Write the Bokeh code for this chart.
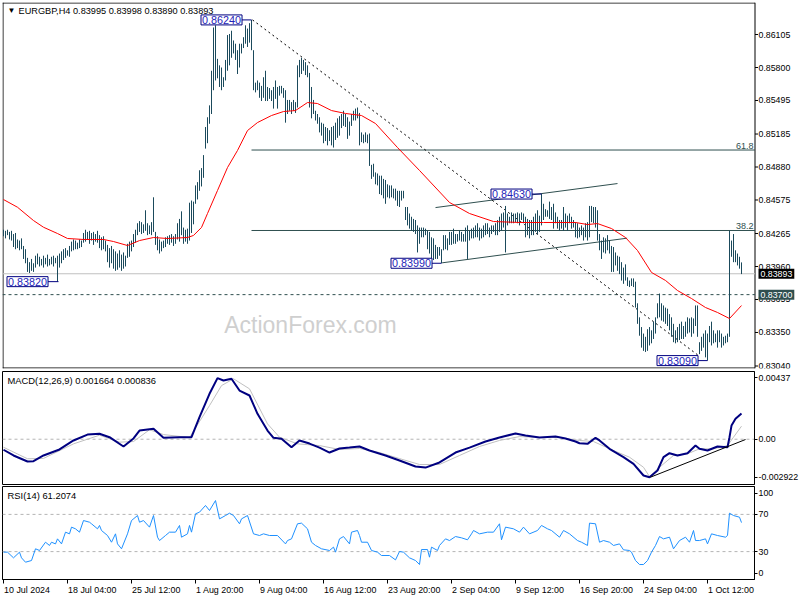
from bokeh.plotting import figure
from bokeh.models import Range1d, FixedTicker, Label, LinearAxis
from bokeh.layouts import column
from bokeh.embed import file_html
from bokeh.resources import INLINE
from bokeh.core.properties import value

FONT = "Liberation Sans"
BAR = "#1b4a5c"
SLATE = "#2f4f4f"

# ---------------- data (EURGBP H4 bars, index 0 = 10 Jul 2024 20:00) ----------------
bar_high = [
0.8430,0.8429,0.8430,0.8428,0.8429,0.8426,0.8427,0.8421,0.8420,0.8422,
0.8415,0.8412,0.8404,0.8400,0.8403,0.8399,0.8406,0.8408,0.8405,0.8403,
0.8406,0.8404,0.8407,0.8403,0.8405,0.8406,0.8404,0.8406,0.8408,0.8410,
0.8412,0.8413,0.8411,0.8415,0.8419,0.8421,0.8420,0.8418,0.8421,0.8420,
0.8427,0.8430,0.8428,0.8429,0.8427,0.8428,0.8426,0.8429,0.8425,0.8423,
0.8424,0.8420,0.8416,0.8413,0.8415,0.8412,0.8410,0.8408,0.8411,0.8407,
0.8409,0.8406,0.8417,0.8419,0.8420,0.8426,0.8430,0.8436,0.8438,0.8437,
0.8435,0.8448,0.8436,0.8434,0.8437,0.8460,0.8428,0.8424,0.8421,0.8419,
0.8420,0.8423,0.8424,0.8425,0.8426,0.8424,0.8426,0.8436,0.8440,0.8447,
0.8432,0.8430,0.8431,0.8455,0.8457,0.8456,0.8471,0.8474,0.8485,0.8487,
0.8499,0.8525,0.8534,0.8545,0.8577,0.8617,0.8619,0.8588,0.8582,0.8580,
0.8571,0.8587,0.8610,0.8611,0.8614,0.8605,0.8602,0.8596,0.8602,0.8602,
0.8608,0.8619,0.8616,0.8621,0.8624,0.8596,0.8566,0.8568,0.8566,0.8563,
0.8571,0.8577,0.8562,0.8561,0.8559,0.8562,0.8568,0.8562,0.8563,0.8563,
0.8561,0.8559,0.8550,0.8550,0.8548,0.8550,0.8548,0.8582,0.8587,0.8589,
0.8587,0.8585,0.8582,0.8575,0.8562,0.8550,0.8540,0.8537,0.8534,0.8529,
0.8528,0.8525,0.8524,0.8522,0.8525,0.8526,0.8529,0.8533,0.8535,0.8537,
0.8540,0.8537,0.8534,0.8530,0.8537,0.8540,0.8542,0.8543,0.8538,0.8520,
0.8518,0.8520,0.8518,0.8519,0.8490,0.8491,0.8483,0.8482,0.8480,0.8480,
0.8477,0.8476,0.8472,0.8471,0.8471,0.8468,0.8468,0.8466,0.8466,0.8466,
0.8466,0.8451,0.8451,0.8445,0.8442,0.8440,0.8439,0.8434,0.8432,0.8432,
0.8432,0.8431,0.8429,0.8428,0.8423,0.8422,0.8416,0.8414,0.8414,0.8412,
0.8425,0.8425,0.8422,0.8428,0.8428,0.8431,0.8426,0.8426,0.8429,0.8428,
0.8426,0.8432,0.8434,0.8429,0.8431,0.8432,0.8434,0.8436,0.8432,0.8431,
0.8434,0.8436,0.8436,0.8432,0.8434,0.8434,0.8436,0.8439,0.8442,0.8445,
0.8446,0.8452,0.8445,0.8442,0.8446,0.8445,0.8445,0.8446,0.8445,0.8446,
0.8445,0.8442,0.8440,0.8439,0.8439,0.8442,0.8445,0.8448,0.8443,0.8463,
0.8454,0.8449,0.8448,0.8456,0.8451,0.8454,0.8446,0.8442,0.8439,0.8439,
0.8451,0.8445,0.8443,0.8445,0.8442,0.8439,0.8437,0.8436,0.8432,0.8434,
0.8432,0.8436,0.8437,0.8452,0.8452,0.8451,0.8451,0.8448,0.8426,0.8420,
0.8423,0.8422,0.8425,0.8420,0.8415,0.8414,0.8409,0.8406,0.8405,0.8400,
0.8395,0.8398,0.8386,0.8383,0.8385,0.8385,0.8382,0.8362,0.8349,0.8340,
0.8334,0.8331,0.8338,0.8340,0.8337,0.8345,0.8349,0.8362,0.8371,0.8362,
0.8360,0.8358,0.8357,0.8352,0.8349,0.8343,0.8337,0.8340,0.8343,0.8345,
0.8341,0.8345,0.8349,0.8348,0.8349,0.8348,0.8360,0.8360,0.8326,0.8331,
0.8334,0.8337,0.8334,0.8341,0.8345,0.8337,0.8334,0.8337,0.8337,0.8334,
0.8331,0.8332,0.8334,0.8429,0.8420,0.8426,0.8411,0.8408,0.8405,0.83998,
]
bar_low = [
0.8424,0.8422,0.8425,0.8421,0.8420,0.8414,0.8412,0.8413,0.8411,0.8412,
0.8403,0.8399,0.8391,0.8390,0.8392,0.8391,0.8395,0.8398,0.8396,0.8397,
0.8395,0.8398,0.8396,0.8397,0.8398,0.8396,0.8399,0.8382,0.8395,0.8399,
0.8402,0.8404,0.8406,0.8405,0.8410,0.8411,0.8412,0.8412,0.8413,0.8414,
0.8418,0.8419,0.8421,0.8417,0.8420,0.8416,0.8419,0.8418,0.8413,0.8411,
0.8412,0.8410,0.8400,0.8395,0.8399,0.8394,0.8392,0.8393,0.8395,0.8392,
0.8394,0.8396,0.8404,0.8405,0.8410,0.8414,0.8418,0.8425,0.8428,0.8426,
0.8427,0.8429,0.8425,0.8426,0.8425,0.8428,0.8416,0.8411,0.8408,0.8410,
0.8413,0.8414,0.8417,0.8416,0.8418,0.8415,0.8417,0.8421,0.8419,0.8425,
0.8417,0.8419,0.8417,0.8420,0.8427,0.8435,0.8454,0.8458,0.8466,0.8470,
0.8478,0.8505,0.8510,0.8528,0.8537,0.8559,0.8568,0.8570,0.8562,0.8559,
0.8562,0.8568,0.8577,0.8582,0.8589,0.8593,0.8587,0.8574,0.8580,0.8593,
0.8598,0.8602,0.8599,0.8603,0.8596,0.8559,0.8557,0.8559,0.8552,0.8549,
0.8552,0.8549,0.8549,0.8551,0.8549,0.8542,0.8551,0.8542,0.8554,0.8556,
0.8552,0.8529,0.8537,0.8540,0.8537,0.8540,0.8538,0.8543,0.8571,0.8574,
0.8577,0.8573,0.8571,0.8543,0.8533,0.8537,0.8531,0.8528,0.8520,0.8517,
0.8510,0.8512,0.8508,0.8512,0.8508,0.8506,0.8513,0.8515,0.8517,0.8524,
0.8526,0.8525,0.8514,0.8517,0.8526,0.8531,0.8531,0.8533,0.8508,0.8511,
0.8510,0.8511,0.8510,0.8489,0.8477,0.8479,0.8472,0.8471,0.8463,0.8462,
0.8459,0.8454,0.8460,0.8459,0.8460,0.8459,0.8457,0.8452,0.8451,0.8457,
0.8459,0.8439,0.8434,0.8431,0.8429,0.8428,0.8426,0.8409,0.8417,0.8423,
0.8423,0.8425,0.8412,0.8408,0.8401,0.8402,0.8403,0.8403,0.8406,0.8399,
0.8411,0.8412,0.8411,0.8416,0.8416,0.8417,0.8417,0.8419,0.8420,0.8419,
0.8419,0.8419,0.8403,0.8420,0.8422,0.8422,0.8423,0.8423,0.8420,0.8422,
0.8423,0.8425,0.8426,0.8423,0.8426,0.8428,0.8425,0.8425,0.8428,0.8429,
0.8432,0.8409,0.8434,0.8436,0.8436,0.8436,0.8437,0.8436,0.8434,0.8439,
0.8436,0.8423,0.8425,0.8422,0.8425,0.8425,0.8428,0.8426,0.8428,0.8434,
0.8439,0.8442,0.8442,0.8440,0.8439,0.8431,0.8436,0.8431,0.8429,0.8431,
0.8429,0.8432,0.8429,0.8436,0.8431,0.8432,0.8423,0.8422,0.8423,0.8425,
0.8420,0.8423,0.8420,0.8423,0.8437,0.8436,0.8432,0.8420,0.8411,0.8403,
0.8409,0.8408,0.8411,0.8408,0.8391,0.8391,0.8397,0.8392,0.8389,0.8383,
0.8380,0.8383,0.8378,0.8377,0.8378,0.8377,0.8358,0.8343,0.8332,0.8321,
0.8318,0.8317,0.8318,0.8323,0.8325,0.8329,0.8334,0.8348,0.8349,0.8346,
0.8345,0.8343,0.8341,0.8337,0.8331,0.8326,0.8325,0.8326,0.8328,0.8329,
0.8329,0.8331,0.8334,0.8335,0.8331,0.8334,0.8341,0.8331,0.8315,0.8318,
0.8321,0.8312,0.8309,0.8326,0.8323,0.8325,0.8326,0.8321,0.8326,0.8321,
0.8323,0.8325,0.8326,0.8331,0.8405,0.8400,0.8400,0.8397,0.8394,0.8389,
]
bar_idx = list(range(len(bar_high)))

ma_idx = [0,7,15,20,27,32,40,50,55,62,68,75,82,92,95,99,102,107,112,117,122,127,134,140,146,152,157,164,171,179,186,197,208,223,233,245,258,270,278,286,292,297,304,311,317,324,331,337,344,351,357,363,369]
ma_val = [0.84579,0.84508,0.84385,0.84323,0.84265,0.84219,0.84210,0.84210,0.84191,0.84154,0.84200,0.84228,0.84219,0.84228,0.84247,0.84321,0.84450,0.84663,0.84875,0.85033,0.85217,0.85291,0.85356,0.85393,0.85402,0.85476,0.85467,0.85402,0.85375,0.85356,0.85282,0.85060,0.84848,0.84552,0.84450,0.84376,0.84367,0.84367,0.84367,0.84367,0.84348,0.84357,0.84311,0.84228,0.84108,0.83905,0.83831,0.83738,0.83664,0.83581,0.83535,0.83479,0.83599]

macd_idx = [0,5,12,15,20,28,35,42,48,53,60,65,68,75,80,88,94,98,103,107,110,114,118,123,127,132,135,139,144,148,153,158,163,168,173,178,183,191,198,206,211,218,226,233,241,248,256,261,268,276,281,286,288,292,296,298,303,310,315,320,323,327,330,333,337,342,346,348,352,357,362,363,364,366,369]
macd_val = [-0.00068,-0.00105,-0.00144,-0.00142,-0.00105,-0.00066,-0.00008,0.00030,0.00035,0.00013,
            -0.00047,0.00005,0.00056,0.00067,0.00009,0.00013,0.00013,0.00142,0.00293,0.00394,
            0.00379,0.00390,0.00314,0.00282,0.00164,0.00056,0.00009,0.00003,-0.00052,-0.00008,
            -0.00028,-0.00054,-0.00086,-0.00060,-0.00054,-0.00047,-0.00073,-0.00105,-0.00137,-0.00176,
            -0.00183,-0.00150,-0.00086,-0.00054,-0.00015,0.00011,0.00037,0.00024,0.00011,0.00017,
            0.00005,-0.00015,-0.00026,-0.00030,0.00009,-0.00008,-0.00062,-0.00116,-0.00159,-0.00234,
            -0.00245,-0.00202,-0.00116,-0.00090,-0.00105,-0.00090,-0.00041,-0.00062,-0.00073,-0.00047,
            -0.00052,0.00013,0.00088,0.00132,0.00166]
signal_idx = [0,12,20,35,48,58,65,73,80,93,103,109,115,123,132,138,147,158,168,178,188,198,208,218,228,238,248,258,268,278,288,295,305,313,320,323,328,335,342,348,355,362,365,369]
signal_val = [-0.00052,-0.00126,-0.00124,-0.00030,0.00026,-0.00019,-0.00015,0.00061,0.00030,0.00011,
              0.00217,0.00346,0.00390,0.00325,0.00099,0.00013,-0.00030,-0.00041,-0.00066,-0.00060,
              -0.00086,-0.00125,-0.00163,-0.00163,-0.00105,-0.00047,-0.00008,0.00017,0.00011,0.00011,
              -0.00008,-0.00015,-0.00073,-0.00116,-0.00181,-0.00241,-0.00181,-0.00105,-0.00094,-0.00062,
              -0.00062,-0.00041,0.00013,0.00084]

rsi_idx = [0,2,5,8,9,11,14,16,18,21,23,24,26,27,29,31,33,34,36,38,40,43,44,47,48,49,52,54,56,57,59,62,64,67,68,70,73,75,77,78,81,83,86,88,89,92,93,94,96,98,101,103,106,108,111,113,115,118,119,122,125,128,130,133,137,141,142,144,147,149,152,154,156,159,163,165,166,168,170,173,174,177,178,179,182,184,187,189,193,196,198,
           200,203,206,208,209,212,213,214,217,218,221,223,226,229,232,234,235,238,242,245,248,249,251,255,258,260,263,267,269,272,274,278,280,283,287,289,292,293,296,298,300,303,305,308,310,313,314,316,318,320,322,324,326,328,330,333,335,338,341,343,345,346,348,351,352,354,357,361,362,363,365,368,369]
rsi_val = [29.4,29.4,23.3,29.4,23.3,18.6,20.4,33.0,31.2,40.1,36.6,40.1,38.3,43.7,38.3,50.9,49.1,56.3,54.5,50.9,63.4,61.6,59.9,54.5,58.1,52.7,47.3,40.1,49.1,38.3,33.0,49.1,63.4,68.8,61.6,63.4,56.3,68.8,45.5,41.9,47.3,50.9,50.9,58.1,45.5,49.1,58.1,50.9,70.6,72.4,79.6,74.2,84.9,65.2,68.8,71.3,68.8,59.9,65.2,68.8,49.1,47.3,49.1,47.3,47.3,38.3,41.9,43.7,59.9,60.6,54.5,40.1,36.6,33.0,31.2,34.8,29.4,43.7,46.2,38.3,50.9,52.7,47.3,40.1,40.1,31.2,29.4,25.8,25.8,21.1,30.1,
           29.4,23.3,20.4,16.1,32.2,32.2,24.0,34.8,31.2,36.6,43.7,41.9,46.2,44.8,42.7,49.1,52.7,49.1,50.9,50.9,59.9,42.7,56.3,54.5,50.9,56.3,49.1,52.7,58.1,54.5,52.7,45.5,52.7,49.1,41.9,40.1,36.6,60.6,59.9,40.1,41.9,40.1,36.6,38.3,31.9,31.2,29.4,20.4,16.1,16.1,20.4,29.4,36.6,46.2,43.7,45.5,33.0,41.9,45.5,40.1,52.7,41.9,41.9,43.7,38.3,49.1,47.3,45.5,47.3,71.3,68.8,67.0,61.2]

price_ticks = [0.86105, 0.85800, 0.85495, 0.85185, 0.84880, 0.84575, 0.84265, 0.83960, 0.83655, 0.83350, 0.83040]
date_ticks = [0, 32, 64, 96, 128, 160, 192, 224, 256, 288, 320, 352]
date_labels = ["10 Jul 2024", "18 Jul 04:00", "25 Jul 12:00", "1 Aug 20:00", "9 Aug 04:00", "16 Aug 12:00",
               "23 Aug 20:00", "2 Sep 04:00", "9 Sep 12:00", "16 Sep 20:00", "24 Sep 04:00", "1 Oct 12:00"]
macd_ticks = [0.00398, 0.0, -0.00247]
macd_tick_labels = ["0.00437", "0.00", "-0.002922"]
rsi_ticks = [92.5, 70.0, 30.0, 6.5]
rsi_tick_labels = ["100", "70", "30", "0"]

fib_618 = 0.85037
fib_382 = 0.84293
bid_price = 0.83893
support = 0.83700
# (label price, box left bar position, bar the label points to)
price_marks = [(0.86240, 97.75, 124.0), (0.83820, 0.75, 27.5), (0.83990, 192.75, 219.0),
               (0.84630, 242.75, 269.0), (0.83090, 325.75, 352.0)]

# ---------------- layout constants (2 px per bar) ----------------
X0 = -0.5
AXIS_I = 375.75         # right edge of the chart area in bar units
PRICE_LO, PRICE_HI = 0.83017, 0.86401
AX_FS = "8.8px"

# ---------------- main price panel (axis drawn inside a wide frame) ----------------
p1 = figure(output_backend="svg", toolbar_location=None, frame_width=798, frame_height=366,
            min_border_left=2, min_border_right=0, min_border_top=2, min_border_bottom=2,
            x_range=Range1d(X0, X0 + 399), y_range=Range1d(PRICE_LO, PRICE_HI),
            x_axis_location=None, y_axis_location=None)
p1.xgrid.visible = False
p1.ygrid.visible = False
p1.outline_line_color = None

half_px_y = 0.5 / 10816.0
p1.line([-0.25, -0.25], [PRICE_LO, PRICE_HI], line_color="black", line_width=1)
p1.line([X0, AXIS_I], [PRICE_HI - half_px_y, PRICE_HI - half_px_y], line_color="black", line_width=1)
p1.line([X0, AXIS_I], [PRICE_LO + half_px_y, PRICE_LO + half_px_y], line_color="black", line_width=1)
p1.line([AXIS_I, AXIS_I], [PRICE_LO, PRICE_HI], line_color="black", line_width=1)
p1.segment(x0=[AXIS_I] * len(price_ticks), x1=[AXIS_I + 1.5] * len(price_ticks),
           y0=price_ticks, y1=price_ticks, line_color="black", line_width=1)
p1.text(x=[377.5] * len(price_ticks), y=price_ticks, text=["%.5f" % t for t in price_ticks],
        text_font=value(FONT), text_font_size=value(AX_FS), text_color="black",
        text_align="left", text_baseline="middle")

wm = Label(x=153.5, y=0.83415, text="ActionForex.com", text_font=FONT, text_font_size="23px",
           text_color="#cfcfcf", text_align="center", text_baseline="middle", level="underlay")
p1.add_layout(wm)

p1.line([X0, AXIS_I], [bid_price, bid_price], line_color="#c0c0c0", line_width=1)
p1.line([X0, AXIS_I], [support, support], line_color=SLATE, line_width=1, line_dash="3 3")
p1.line([124, AXIS_I], [fib_618, fib_618], line_color=SLATE, line_width=1)
p1.line([124, AXIS_I], [fib_382, fib_382], line_color=SLATE, line_width=1)
p1.line([216, 307], [0.84505, 0.84727], line_color=SLATE, line_width=1)
p1.line([219.3, 311.8], [0.83994, 0.84222], line_color=SLATE, line_width=1)
p1.line([124.5, 348], [0.86240, 0.83130], line_color="black", line_width=1, line_dash="2 3")

p1.segment(x0=bar_idx, y0=bar_low, x1=bar_idx, y1=bar_high, line_color=BAR, line_width=1)
p1.line(ma_idx, ma_val, line_color="#ff0000", line_width=1)

for txt, lvl in (("61.8", fib_618), ("38.2", fib_382)):
    p1.add_layout(Label(x=375.0, y=lvl, text=txt, text_font=FONT, text_font_size="9px",
                        text_color=SLATE, text_align="right", text_baseline="bottom", y_offset=1))

for price, left, target in price_marks:
    p1.line([left + 21.5, target], [price, price], line_color="#000080", line_width=1)
    p1.add_layout(Label(x=left + 1.0, y=price, text="%.5f" % price, text_font=FONT,
                        text_font_size="10.8px", text_color="#2323b8", text_align="left",
                        text_baseline="middle", background_fill_color="white",
                        border_line_color="#000080", border_line_width=1, padding=1))

p1.add_layout(Label(x=2.0, y=0.86327, text="\u25bc", text_font=FONT, text_font_size="8px",
                    text_color="black", text_align="left", text_baseline="middle"))
p1.add_layout(Label(x=7.5, y=0.86327,
                    text="EURGBP,H4  0.83995 0.83998 0.83890 0.83893",
                    text_font=FONT, text_font_size="9.2px", text_color="black",
                    text_align="left", text_baseline="middle"))

for val, bg in ((bid_price, "black"), (support, SLATE)):
    p1.add_layout(Label(x=377.5, y=val, text="%.5f" % val, text_font=FONT, text_font_size=AX_FS,
                        text_color="white", text_align="left", text_baseline="middle",
                        background_fill_color=bg, padding=2))

# ---------------- indicator panels ----------------
xr = Range1d(X0, X0 + 376)


def base(fig_kw):
    p = figure(output_backend="svg", toolbar_location=None, frame_width=752,
               min_border_left=2, min_border_right=46, x_range=xr,
               y_axis_location="right", **fig_kw)
    p.xgrid.visible = False
    p.ygrid.visible = False
    p.outline_line_color = "black"
    p.outline_line_width = 1
    ax = p.yaxis[0]
    ax.major_label_text_font = FONT
    ax.major_label_text_font_size = AX_FS
    ax.major_label_text_color = "black"
    ax.major_tick_out = 3
    ax.major_tick_in = 0
    ax.minor_tick_out = 0
    ax.minor_tick_in = 0
    ax.axis_line_color = "black"
    ax.major_tick_line_color = "black"
    ax.major_label_standoff = 1
    return p


p2 = base(dict(frame_height=113, min_border_top=1, min_border_bottom=1,
               y_range=Range1d(-0.002922, 0.00437), x_axis_location=None))
p2.yaxis[0].ticker = FixedTicker(ticks=macd_ticks)
p2.yaxis[0].major_label_overrides = dict(zip(macd_ticks, macd_tick_labels))
p2.line([X0, AXIS_I], [0, 0], line_color="#b4b4b4", line_width=1, line_dash="3 3")
p2.line(signal_idx, signal_val, line_color="#c0c0c0", line_width=1)
p2.line(macd_idx, macd_val, line_color="#000080", line_width=2)
p2.line([323.5, 371], [-0.00245, -0.00002], line_color="black", line_width=1)
p2.add_layout(Label(x=2.0, y=0.00379, text="MACD(12,26,9) 0.001664 0.000836", text_font=FONT,
                    text_font_size="9.4px", text_color="black", text_align="left",
                    text_baseline="middle"))

p3 = base(dict(frame_height=93, min_border_top=1, min_border_bottom=21,
               y_range=Range1d(0, 100), x_axis_location="below"))
p3.yaxis[0].ticker = FixedTicker(ticks=rsi_ticks)
p3.yaxis[0].major_label_overrides = dict(zip(rsi_ticks, rsi_tick_labels))
for lv in (70, 30):
    p3.line([X0, AXIS_I], [lv, lv], line_color="#b4b4b4", line_width=1, line_dash="3 3")
p3.line(rsi_idx, rsi_val, line_color="#1e90ff", line_width=1)
p3.add_layout(Label(x=2.0, y=90.3, text="RSI(14) 61.2074", text_font=FONT,
                    text_font_size="9.4px", text_color="black", text_align="left",
                    text_baseline="middle"))

# date axis: tick marks on the first axis, left-aligned labels on a second one
xa = p3.xaxis[0]
xa.ticker = FixedTicker(ticks=date_ticks)
xa.major_label_overrides = {t: "" for t in date_ticks}
xa.major_label_text_font_size = "0px"
xa.major_label_standoff = 0
xa.major_tick_out = 4
xa.major_tick_in = 0
xa.minor_tick_out = 0
xa.minor_tick_in = 0
xa.axis_line_color = "black"
xa.major_tick_line_color = "black"

CW = {"J": 0.5, "u": 0.556, "l": 0.222, "A": 0.667, "g": 0.556, "S": 0.667, "e": 0.556,
      "p": 0.556, "O": 0.778, "c": 0.5, "t": 0.278, " ": 0.278, ":": 0.278}
label_pos = [t + (sum(CW.get(ch, 0.556) for ch in lab) * 8.9 / 2.0 + 0.5) / 2.0
             for t, lab in zip(date_ticks, date_labels)]
xb = LinearAxis(ticker=FixedTicker(ticks=label_pos),
                major_label_overrides=dict(zip(label_pos, date_labels)),
                major_tick_out=0, major_tick_in=0, minor_tick_out=0, minor_tick_in=0,
                axis_line_color=None, major_label_standoff=1,
                major_label_text_font=FONT, major_label_text_font_size="8.9px",
                major_label_text_color="black")
p3.add_layout(xb, "below")

layout = column(p1, p2, p3)
open("out.html", "w").write(file_html(layout, INLINE))
